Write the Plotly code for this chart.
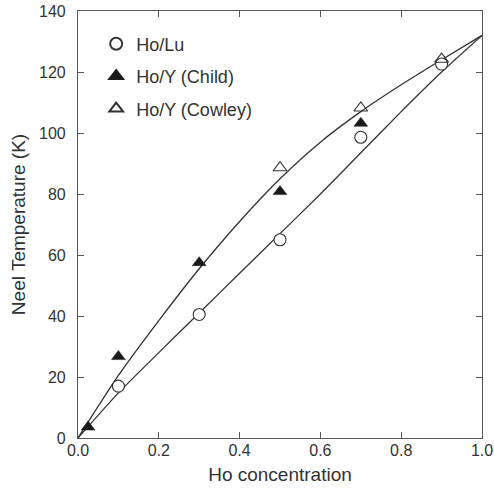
import plotly.graph_objects as go

# Measured data
lu_x = [0.1, 0.3, 0.5, 0.7, 0.9]
lu_t = [17, 40.5, 65, 98.6, 122.6]

child_x = [0.025, 0.1, 0.3, 0.5, 0.7]
child_t = [3.6, 26.7, 57.5, 80.8, 103.2]

cowley_x = [0.5, 0.7, 0.9]
cowley_t = [88.6, 108.2, 124.2]

# Fitted curves
curve_x = [0.0, 0.1, 0.2, 0.3, 0.4, 0.5, 0.6, 0.7, 0.8, 0.9, 1.0]
upper_t = [0.0, 20.5, 38.5, 55.5, 71.0, 85.0, 97.0, 107.0, 115.8, 124.0, 132.0]
lower_t = [0.0, 14.8, 28.0, 41.0, 54.0, 67.0, 80.0, 93.5, 107.0, 120.0, 132.0]

x_ticks = [0.0, 0.2, 0.4, 0.6, 0.8, 1.0]
x_tick_labels = ["0.0", "0.2", "0.4", "0.6", "0.8", "1.0"]
y_ticks = [0, 20, 40, 60, 80, 100, 120, 140]

ink = "#333333"
font_family = "Liberation Sans, Arial, Helvetica, sans-serif"

fig = go.Figure()
fig.add_trace(go.Scatter(x=curve_x, y=upper_t, mode="lines",
                         line=dict(color=ink, width=1.3, shape="spline", smoothing=0.6),
                         showlegend=False, hoverinfo="skip"))
fig.add_trace(go.Scatter(x=curve_x, y=lower_t, mode="lines",
                         line=dict(color=ink, width=1.3, shape="spline", smoothing=0.6),
                         showlegend=False, hoverinfo="skip"))
fig.add_trace(go.Scatter(x=lu_x, y=lu_t, mode="markers", name="Ho/Lu", legendgroup="a",
                         marker=dict(symbol="circle", size=12, color="white", line=dict(color=ink, width=1.1))))
fig.add_trace(go.Scatter(x=child_x, y=child_t, mode="markers", name="Ho/Y (Child)", legendgroup="b",
                         marker=dict(symbol="triangle-up", size=12, color="#1a1a1a", line=dict(color="#1a1a1a", width=0.5))))
fig.add_trace(go.Scatter(x=cowley_x, y=cowley_t, mode="markers", name="Ho/Y (Cowley)", legendgroup="c",
                         marker=dict(symbol="triangle-up-open", size=12, color=ink, line=dict(color=ink, width=1.1))))

axis_common = dict(
    showgrid=False, zeroline=False, showline=True, linecolor="#555555", linewidth=1.2,
    mirror="allticks", ticks="inside", ticklen=6, tickcolor="#555555", tickwidth=1.2,
    tickfont=dict(family=font_family, size=16, color=ink), automargin=False,
)

fig.update_layout(
    width=494, height=488,
    margin=dict(l=78, r=12, t=11, b=50),
    paper_bgcolor="white", plot_bgcolor="white",
    font=dict(family=font_family, color=ink),
    xaxis=dict(range=[0, 1.0], tickvals=x_ticks, ticktext=x_tick_labels, ticklabelstandoff=-2,
               title=dict(text="Ho concentration", font=dict(size=19, color=ink), standoff=9), **axis_common),
    yaxis=dict(range=[0, 140], tickvals=y_ticks, ticklabelstandoff=8,
               title=dict(text="Neel Temperature (K)", font=dict(size=19, color=ink), standoff=8), **axis_common),
    legend=dict(x=0.045, y=0.966, xanchor="left", yanchor="top", bgcolor="rgba(0,0,0,0)",
                font=dict(family=font_family, size=18, color=ink), tracegroupgap=6, itemsizing="constant"),
)

fig.write_html("out.html", config={"displayModeBar": False},
               post_script="document.body.style.margin='0';")
